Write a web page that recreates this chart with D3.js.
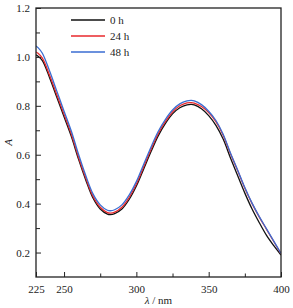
<!DOCTYPE html>
<html>
<head>
<meta charset="utf-8">
<script src="https://cdn.jsdelivr.net/npm/d3@7"></script>
<style>
  body { margin: 0; background: #fff; }
  text { font-family: "Liberation Serif", "DejaVu Serif", serif; font-size: 11px; fill: #222; }
</style>
</head>
<body>
<svg id="chart"></svg>
<script>
const width = 293;
const height = 308;

// wavelength (nm) and absorbance for each time
const wavelengths = [230, 232, 235, 240, 245, 250, 255, 260, 265, 270, 275, 280, 282, 285, 290, 295, 300, 305, 310, 315, 320, 325, 330, 335, 338, 340, 345, 350, 355, 360, 365, 370, 375, 380, 385, 390, 395, 400];
const abs0h  = [1.008, 1.003, 0.985, 0.915, 0.835, 0.755, 0.675, 0.582, 0.497, 0.423, 0.378, 0.357, 0.355, 0.359, 0.378, 0.417, 0.472, 0.541, 0.611, 0.676, 0.727, 0.767, 0.792, 0.804, 0.806, 0.804, 0.788, 0.760, 0.720, 0.664, 0.588, 0.515, 0.443, 0.378, 0.322, 0.270, 0.228, 0.190];
const abs24h = [1.020, 1.015, 0.995, 0.925, 0.845, 0.765, 0.685, 0.590, 0.505, 0.430, 0.385, 0.363, 0.361, 0.365, 0.385, 0.425, 0.480, 0.550, 0.620, 0.685, 0.735, 0.775, 0.800, 0.812, 0.813, 0.811, 0.797, 0.772, 0.735, 0.680, 0.605, 0.535, 0.463, 0.400, 0.345, 0.295, 0.245, 0.195];
const abs48h = [1.045, 1.038, 1.015, 0.942, 0.860, 0.778, 0.697, 0.602, 0.515, 0.440, 0.395, 0.373, 0.371, 0.375, 0.395, 0.435, 0.490, 0.560, 0.630, 0.694, 0.744, 0.783, 0.808, 0.820, 0.822, 0.820, 0.805, 0.778, 0.740, 0.684, 0.608, 0.538, 0.466, 0.402, 0.347, 0.297, 0.247, 0.196];

const seriesNames = ["0 h", "24 h", "48 h"];
const seriesColors = ["#111111", "#e8282c", "#3a6dd2"];

const xTicks = [225, 250, 300, 350, 400];
const xMinor = [275, 325, 375];
const yTicks = [0.2, 0.4, 0.6, 0.8, 1.0, 1.2];
const yMinor = [0.3, 0.5, 0.7, 0.9, 1.1];

const margin = {top: 8, right: 12, bottom: 31, left: 36};
const innerW = width - margin.left - margin.right;
const innerH = height - margin.top - margin.bottom;

const svg = d3.select("#chart")
    .attr("width", width)
    .attr("height", height);

const g = svg.append("g")
    .attr("transform", "translate(" + margin.left + "," + margin.top + ")");

let x = d3.scaleLinear()
    .domain([230.6, 400])
    .range([0, innerW])
    .clamp(true);
let y = d3.scaleLinear()
    .domain([0.1, 1.2])
    .range([innerH, 0]);

let series = [abs0h, abs24h, abs48h].map((vals, i) => ({
    name: seriesNames[i],
    color: seriesColors[i],
    points: wavelengths.map((w, j) => ({w: w, a: vals[j]}))
}));

g.append("defs").append("clipPath")
    .attr("id", "clip")
    .append("rect")
    .attr("width", innerW)
    .attr("height", innerH);

let line = d3.line()
    .x(d => x(d.w))
    .y(d => y(d.a))
    .curve(d3.curveCatmullRom);

g.append("g")
    .attr("clip-path", "url(#clip)")
    .selectAll("path")
    .data(series)
    .join("path")
    .attr("fill", "none")
    .attr("stroke", d => d.color)
    .attr("stroke-width", 1.3)
    .attr("d", d => line(d.points));

// frame
g.append("rect")
    .attr("width", innerW)
    .attr("height", innerH)
    .attr("fill", "none")
    .attr("stroke", "#222")
    .attr("stroke-width", 1.3);

// x axis
let xAxis = g.append("g")
    .attr("transform", "translate(0," + innerH + ")")
    .call(d3.axisBottom(x).tickValues(xTicks).tickSize(-5).tickPadding(8).tickFormat(d3.format("d")));
xAxis.select(".domain").remove();
xAxis.selectAll("line").attr("stroke", "#222");
g.append("g")
    .attr("transform", "translate(0," + innerH + ")")
    .call(d3.axisBottom(x).tickValues(xMinor).tickSize(-3.5).tickFormat(""))
    .call(a => a.select(".domain").remove())
    .selectAll("line").attr("stroke", "#222");

// y axis
let yAxis = g.append("g")
    .call(d3.axisLeft(y).tickValues(yTicks).tickSize(-5).tickPadding(6).tickFormat(d3.format(".1f")));
yAxis.select(".domain").remove();
yAxis.selectAll("line").attr("stroke", "#222");
g.append("g")
    .call(d3.axisLeft(y).tickValues(yMinor).tickSize(-4).tickFormat(""))
    .call(a => a.select(".domain").remove())
    .selectAll("line").attr("stroke", "#222");

svg.selectAll(".tick text")
    .attr("font-family", "Liberation Serif, serif")
    .attr("font-size", 11)
    .attr("fill", "#222");

// axis titles
svg.append("text")
    .attr("x", margin.left + innerW / 2)
    .attr("y", height - 4)
    .attr("text-anchor", "middle")
    .html("<tspan font-style='italic'>λ</tspan> / nm");

svg.append("text")
    .attr("transform", "translate(12," + (margin.top + innerH / 2) + ") rotate(-90)")
    .attr("text-anchor", "middle")
    .attr("font-style", "italic")
    .text("A");

// legend
let legend = g.append("g")
    .attr("transform", "translate(35,12)");
let item = legend.selectAll("g")
    .data(series)
    .join("g")
    .attr("transform", (d, i) => "translate(0," + (i * 16) + ")");
item.append("line")
    .attr("x1", 0)
    .attr("x2", 34)
    .attr("stroke", d => d.color)
    .attr("stroke-width", 1.3);
item.append("text")
    .attr("x", 39)
    .attr("y", 4)
    .text(d => d.name);
</script>
</body>
</html>
